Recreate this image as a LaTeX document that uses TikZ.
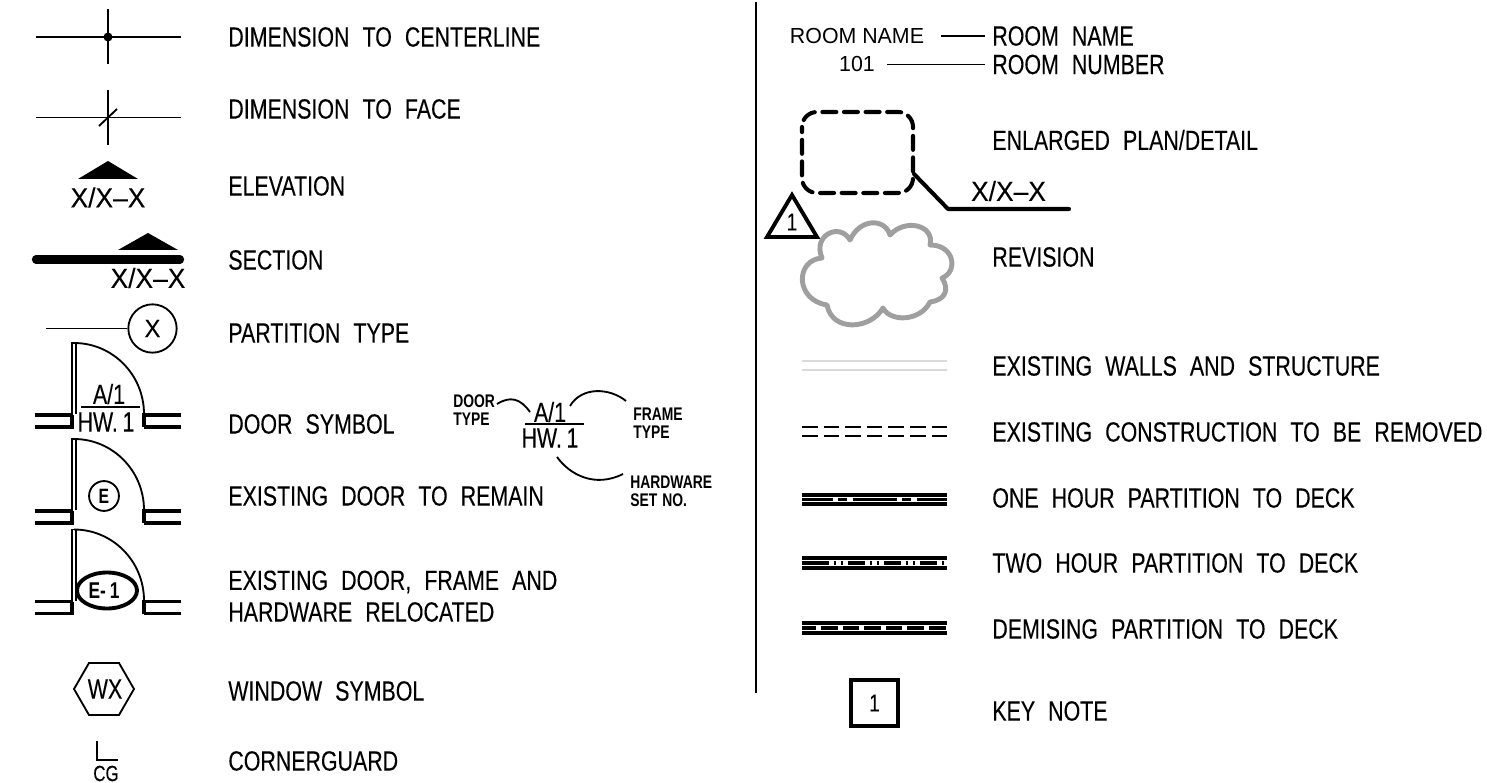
\documentclass[tikz,border=0pt]{standalone}
\usepackage{fontspec}
\usepackage{tikz}
\newfontfamily\cadfont[FakeStretch=0.77,WordSpace=2.2,FakeBold=0.15]{Liberation Sans}
\newfontfamily\cadwide[FakeStretch=0.95,FakeBold=0.1]{Liberation Sans}
\newfontfamily\cadlite[FakeStretch=0.98]{Liberation Sans}
\newfontfamily\cadbold[FakeStretch=0.76,WordSpace=1.3]{Liberation Sans Bold}
\tikzset{
  lbl/.style={anchor=west,inner sep=0pt,font=\cadfont\fontsize{15.8}{17}\selectfont},
  sym/.style={inner sep=0pt,font=\cadfont\fontsize{15.8}{17}\selectfont},
  tagx/.style={inner sep=0pt,font=\cadwide\fontsize{15.8}{17}\selectfont},
  tiny/.style={anchor=west,inner sep=0pt,align=left,font=\cadbold\fontsize{10.4}{10}\selectfont},
  lite/.style={inner sep=0pt,font=\cadlite\fontsize{12.4}{13}\selectfont},
  wall/.style={line width=1.9pt},
  thin/.style={line width=1.05pt},
  rated/.style={line width=2pt}
}
\begin{document}
\begin{tikzpicture}[x=0.02cm,y=-0.02cm]
\useasboundingbox (0,0) rectangle (1487,783);
% left column, symbols
\draw[thin] (36,37) -- (181,37); % centerline
\draw[thin] (108,9) -- (108,64);
\fill (108,37) circle (4.5);
\draw[thin] (36,117.5) -- (181,117.5); % face
\draw[thin] (108,90) -- (108,145);
\draw[thin] (99,126) -- (117,109);
\fill (78,179) -- (108,161) -- (138,179) --cycle; % elevation
\draw (108,197.5) node[tagx] (elevtag) {X/X–X};
\draw[line width=4.7pt,line cap=round] (36,259.5) -- (180,259.5); % section
\fill (118,250) -- (148,233) -- (178,250) --cycle;
\draw (148,278) node[tagx] (secttag) {X/X–X};
\draw (152.5,328.5) node[draw,circle,line width=1.05pt,minimum size=27.5pt,inner sep=0pt,font=\cadwide\fontsize{14.2}{16}\selectfont] (parttag) {X};
\draw[thin] (46,328.5) -- (parttag);
% door symbol
\draw[wall] (35,415) -- (72,415);
\draw[wall] (35,427) -- (72,427) -- (72,415);
\draw[wall] (181,415) -- (144,415) -- (144,427);
\draw[wall] (181,427) -- (144,427);
\draw[thin] (72,415) -- (72,343) -- (76,343) -- (76,414);
\draw[thin] (74,343) arc (-90:0:70 and 71);
\draw[thin] (81,407) -- (140,407);
\draw (109,394) node[sym] (doora) {A/1};
\draw (106,422) node[sym] (doorb) {HW.\,1};
% existing door
\draw[wall] (35,511) -- (72,511);
\draw[wall] (35,523) -- (72,523) -- (72,511);
\draw[wall] (181,511) -- (144,511) -- (144,523);
\draw[wall] (181,523) -- (144,523);
\draw[thin] (72,511) -- (72,439) -- (76,439) -- (76,510);
\draw[thin] (74,439) arc (-90:0:70 and 71);
\draw (104,496) node[draw,circle,line width=1.05pt,minimum size=17pt,inner sep=0pt,font=\cadbold\fontsize{11.8}{12}\selectfont] (exdoor) {E};
% relocated door
\draw[wall] (35,601.5) -- (72,601.5);
\draw[wall] (35,613.5) -- (72,613.5) -- (72,601.5);
\draw[wall] (181,601.5) -- (144,601.5) -- (144,613.5);
\draw[wall] (181,613.5) -- (144,613.5);
\draw[thin] (72,601.5) -- (72,529.5) -- (76,529.5) -- (76,600.5);
\draw[thin] (74,529.5) arc (-90:0:70 and 71);
\draw[line width=2.2pt] (107,590.5) ellipse (30 and 18);
\draw (104,590.5) node[inner sep=0pt,font=\cadbold\fontsize{13}{14}\selectfont] (reldoor) {E-\,1};
% window and cornerguard
\draw[thin] (74,689) -- (89,663) -- (119,663) -- (134,689) -- (119,715) -- (89,715) --cycle;
\draw (105,689) node[sym] (wintag) {WX};
\draw[thin] (97,741) -- (97,760) -- (118,760);
\draw (106,773.5) node[sym,font=\cadfont\fontsize{12.5}{13}\selectfont] (cgtag) {CG};
% left column, labels
\draw (228,37) node[lbl] (ldimc) {DIMENSION TO CENTERLINE};
\draw (228,109) node[lbl] (ldimf) {DIMENSION TO FACE};
\draw (228,186) node[lbl] (lelev) {ELEVATION};
\draw (228,260) node[lbl] (lsect) {SECTION};
\draw (228,333) node[lbl] (lpart) {PARTITION TYPE};
\draw (228,424) node[lbl] (ldoor) {DOOR SYMBOL};
\draw (228,496) node[lbl] (lexdoor) {EXISTING DOOR TO REMAIN};
\draw (228,582) node[lbl] (lrel) {EXISTING DOOR, FRAME AND};
\draw (228,612) node[lbl] (lrelb) {HARDWARE RELOCATED};
\draw (228,691) node[lbl] (lwin) {WINDOW SYMBOL};
\draw (228,761) node[lbl] (lcg) {CORNERGUARD};
% door key
\draw (453,410) node[tiny] (tdoor) {DOOR\\TYPE};
\draw (550,412) node[sym] (keya) {A/1};
\draw[thin] (525,424) -- (584,424);
\draw (550,438) node[sym] (keyb) {HW.\,1};
\draw (633,423) node[tiny] (tframe) {FRAME\\TYPE};
\draw (630,491.5) node[tiny] (thard) {HARDWARE\\SET NO.};
\draw[thin] (497,404) .. controls (510,396) and (520,398) .. (530,412);
\draw[thin] (570,406) .. controls (582,386) and (610,388) .. (626,401);
\draw[thin] (557,457) .. controls (570,475) and (595,488) .. (623,474);
\draw[line width=1.1pt] (756,2) -- (756,693); % divider
% right column, symbols
\draw (857,36) node[lite] (rname) {ROOM NAME};
\draw (857,64.5) node[lite] (rnum) {101};
\draw (992,36) node[lbl] (lname) {ROOM NAME};
\draw (992,64.5) node[lbl] (lnum) {ROOM NUMBER};
\draw[thin,shorten <=9.6pt,shorten >=4pt] (rname) -- (lname);
\draw[thin,shorten <=7pt,shorten >=4pt] (rnum) -- (lnum);
\draw[line width=2.3pt,rounded corners=8.5pt,line cap=round,dash pattern=on 8pt off 4.3pt,dash phase=5pt] (802,112) rectangle (913,193);
\draw[line width=2.3pt,line cap=round,line join=round] (914,174) -- (948,209) -- (1069,209);
\draw (1008.5,191) node[tagx] (entag) {X/X–X};
\draw[line width=2.2pt] (792,195) -- (817,237) -- (767,237) --cycle;
\draw (792,222) node[sym,font=\cadfont\fontsize{14}{14}\selectfont] (revtag) {1};
\draw[line width=2.8pt,gray!75,line join=round] (822,258) .. controls (812,235) and (840,222) .. (850,240)
  .. controls (860,218) and (885,218) .. (890,235)
  .. controls (905,218) and (935,225) .. (930,245)
  .. controls (955,245) and (958,272) .. (942,278)
  .. controls (950,290) and (945,300) .. (930,302)
  .. controls (920,322) and (890,322) .. (883,308)
  .. controls (870,330) and (832,332) .. (827,305)
  .. controls (795,300) and (795,260) .. (822,258) --cycle; % cloud
\draw[line width=1.2pt,gray!30] (802,361) -- (947,361); % existing walls
\draw[line width=1.2pt,gray!30] (802,370) -- (947,370);
\draw[thin,dash pattern=on 8.9pt off 3.4pt] (802,427) -- (947,427); % removed
\draw[thin,dash pattern=on 8.9pt off 3.4pt] (802,436) -- (947,436);
\draw[rated] (802,495) -- (947,495); % one hour
\draw[rated] (802,504) -- (947,504);
\draw[rated,dash pattern=on 25.5pt off 2.8pt on 5.1pt off 3.4pt,dash phase=8pt] (802,499.5) -- (947,499.5);
\draw[rated] (802,558) -- (947,558); % two hour
\draw[rated] (802,568) -- (947,568);
\draw[rated] (802,563) -- (829,563);
\draw[rated,dash pattern=on 1.4pt off 2.6pt on 1.4pt off 2.8pt on 9.5pt off 2.8pt,dash phase=17.7pt] (829,563) -- (947,563);
\draw[rated] (802,623) -- (947,623); % demising
\draw[rated] (802,633) -- (947,633);
\draw[rated,dash pattern=on 9.4pt off 2.9pt,dash phase=1.5pt] (802,628) -- (947,628);
\draw (874.5,703) node[draw,rectangle,line width=2.3pt,minimum size=26.6pt,inner sep=0pt,font=\cadfont\fontsize{14}{14}\selectfont] (keynote) {1};
% right column, labels
\draw (992,140) node[lbl] (lenl) {ENLARGED PLAN/DETAIL};
\draw (992,257) node[lbl] (lrev) {REVISION};
\draw (992,366) node[lbl] (lwalls) {EXISTING WALLS AND STRUCTURE};
\draw (992,432) node[lbl] (lrem) {EXISTING CONSTRUCTION TO BE REMOVED};
\draw (992,498) node[lbl] (lone) {ONE HOUR PARTITION TO DECK};
\draw (992,563) node[lbl] (ltwo) {TWO HOUR PARTITION TO DECK};
\draw (992,629) node[lbl] (ldem) {DEMISING PARTITION TO DECK};
\draw (992,711) node[lbl] (lkey) {KEY NOTE};
\end{tikzpicture}
\end{document}
